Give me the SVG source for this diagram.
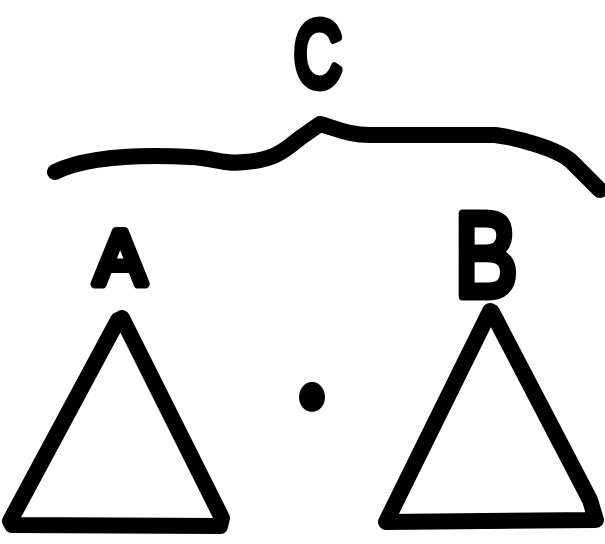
<svg xmlns="http://www.w3.org/2000/svg" width="605" height="544" viewBox="0 0 605 544">
<style>
.ink{fill:none;stroke:#000;stroke-width:16;stroke-linecap:round;stroke-linejoin:round}
.lbl{font-family:"Liberation Sans",Arial,sans-serif;font-weight:normal;fill:#000;stroke:#000;stroke-width:9;stroke-linejoin:round;text-anchor:middle}
</style>
<rect width="605" height="544" fill="#fff"/>
<g id="connectors">
<path class="ink" d="M55,172 C 90,155 150,155 190,157 C 215,158 225,165 245,162 C 275,160 285,150 300,138 L 320,124 C 340,130 350,135 370,135 L 495,135 C 520,138 560,150 572,162 L 600,190"/>
</g>
<g id="C"><text class="lbl" transform="translate(318,86) scale(0.72,1)" font-size="92">C</text></g>
<g id="A">
<text class="lbl" x="120" y="284" font-size="76">A</text>
<path class="ink" d="M118,320 L 10,521 L 12,525 L 220,526 L 222,518 L 122,318"/>
</g>
<g id="B">
<text class="lbl" transform="translate(486,296) scale(0.8,1)" font-size="118">B</text>
<path class="ink" d="M490,311 L 386,522 L 596,520 L 590,500 L 492,312"/>
</g>
<g id="dot"><ellipse cx="312" cy="397" rx="13" ry="15" fill="#000"/></g>
</svg>
